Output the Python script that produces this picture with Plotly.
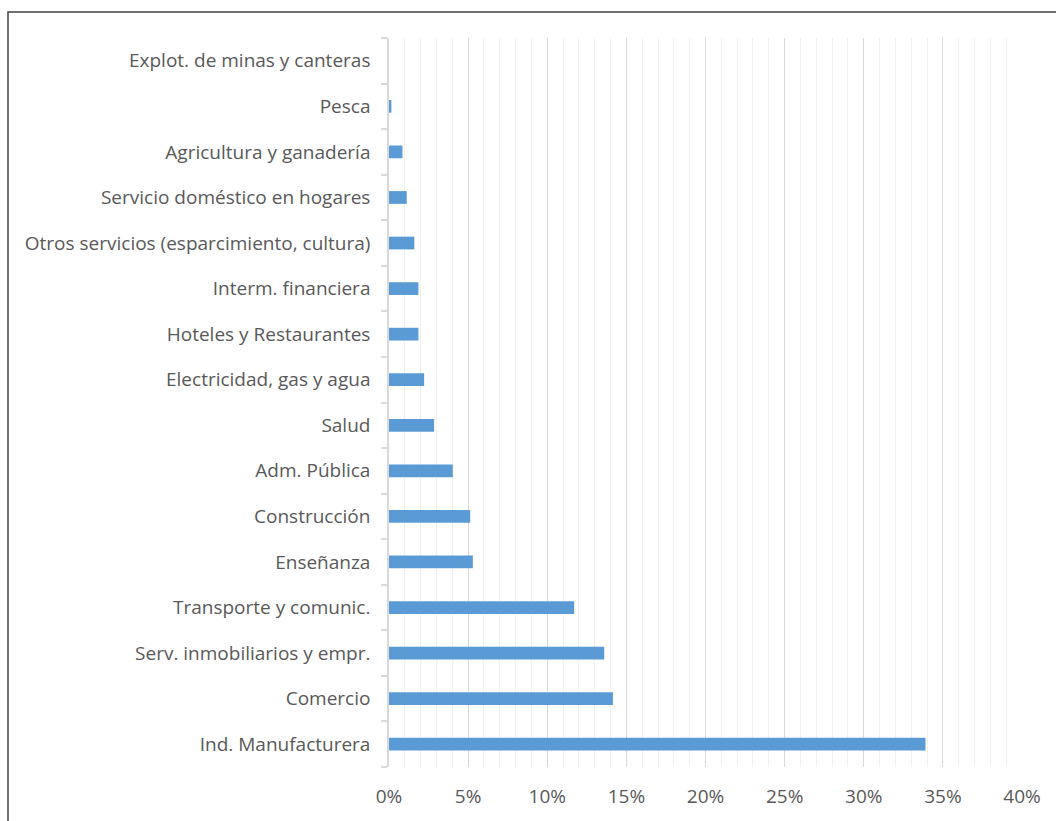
import plotly.graph_objects as go

categories = [
    "Ind. Manufacturera", "Comercio", "Serv. inmobiliarios y empr.",
    "Transporte y comunic.", "Enseñanza", "Construcción", "Adm. Pública",
    "Salud", "Electricidad, gas y agua", "Hoteles y Restaurantes",
    "Interm. financiera", "Otros servicios (esparcimiento, cultura)",
    "Servicio doméstico en hogares", "Agricultura y ganadería", "Pesca",
    "Explot. de minas y canteras",
]
values = [33.9, 14.15, 13.6, 11.7, 5.3, 5.13, 4.03, 2.85, 2.22, 1.86,
          1.86, 1.6, 1.12, 0.85, 0.15, 0.0]
x_ticks = [0, 5, 10, 15, 20, 25, 30, 35, 40]
x_tick_labels = ["0%", "5%", "10%", "15%", "20%", "25%", "30%", "35%", "40%"]

W, H = 1056, 821
L, R, T, B = 389, 34, 38, 54
pw = W - L - R
ph = H - T - B

fig = go.Figure(go.Bar(
    y=categories, x=values, orientation="h",
    marker=dict(color="#5b9bd5", line=dict(width=0)),
    width=0.28,
))

fig.update_layout(
    width=W, height=H,
    margin=dict(l=L, r=R, t=T, b=B, pad=0),
    paper_bgcolor="white", plot_bgcolor="white",
    font=dict(family="Open Sans, sans-serif", size=19, color="#595959"),
    showlegend=False,
    xaxis=dict(
        range=[0, 40], tickmode="array", tickvals=x_ticks, ticktext=x_tick_labels,
        showgrid=True, gridcolor="#d9d9d9", gridwidth=1,
        minor=dict(dtick=1, showgrid=True, gridcolor="#f0f0f0", gridwidth=1),
        zeroline=False, showline=False, ticks="",
        ticklabelstandoff=16,
        tickfont=dict(size=19, color="#595959"),
        fixedrange=True,
    ),
    yaxis=dict(
        categoryorder="array", categoryarray=categories,
        showline=True, linecolor="#d9d9d9", linewidth=1.5,
        ticks="outside", tickson="boundaries", ticklen=6, tickcolor="#d9d9d9",
        tickwidth=1.5, showgrid=False, zeroline=False,
        ticklabelstandoff=13,
        tickfont=dict(size=19, color="#595959"),
        range=[-0.5, len(categories) - 0.5],
    ),
    bargap=0.72,
)

# outer frame (extends beyond the right and bottom edges of the picture)
fig.add_shape(
    type="rect", xref="paper", yref="paper",
    x0=(8 - L) / pw, x1=1.2, y0=-0.3, y1=(H - B - 12) / ph,
    line=dict(color="#404040", width=1.5), layer="below",
)

fig.write_html(
    "out.html",
    config={"displayModeBar": False},
    post_script="document.body.style.margin='0';document.body.style.overflow='hidden';",
)
